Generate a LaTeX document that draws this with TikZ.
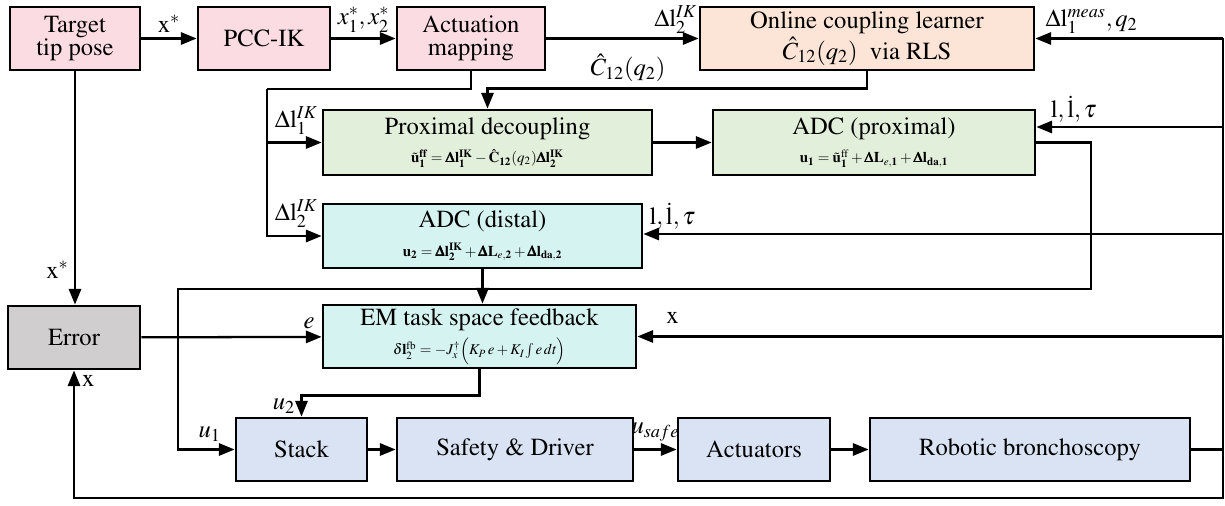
\documentclass[tikz,border=0pt]{standalone}
\usepackage[T1]{fontenc}
\usepackage{mathptmx}
\usepackage{amsmath}
\usetikzlibrary{positioning,arrows.meta}
\definecolor{pinkbox}{HTML}{FBDCE2}
\definecolor{peachbox}{HTML}{FCE4D6}
\definecolor{greenbox}{HTML}{E2EFDA}
\definecolor{cyanbox}{HTML}{D5F3F1}
\definecolor{graybox}{HTML}{D0CECE}
\definecolor{bluebox}{HTML}{DAE3F3}
\newcommand{\eqsz}{\fontsize{8.5}{10}\selectfont}
\newcommand{\bD}{\pmb{\Delta}}
\tikzset{
  blk/.style={draw, line width=1.6pt, minimum height=1.26cm, align=center,
    inner sep=1pt, font=\fontsize{14}{15}\selectfont},
  sig/.style={line width=1.3pt},
  arr/.style={sig, -{Triangle[length=9pt,width=7pt]}},
  lbl/.style={inner sep=1pt, font=\fontsize{14}{15}\selectfont}
}

\begin{document}
\begin{tikzpicture}[x=0.02cm, y=-0.02cm]
  \useasboundingbox (0,0) rectangle (1225,506);
  % top row
  \node[blk, fill=pinkbox, minimum width=2.6cm] (target) at (75,38.5) {Target\\[-2pt]tip pose};
  \node[blk, fill=pinkbox, minimum width=2.64cm] (pcc) at (264,38.5) {PCC-IK};
  \node[blk, fill=pinkbox, minimum width=2.96cm] (act) at (471,38.5) {Actuation\\[-2pt]mapping};
  \node[blk, fill=peachbox, minimum width=6.68cm] (online) at (867,38.5)
    {Online coupling learner\\[1pt]$\hat{C}_{12}(q_2)$\ \ via RLS};
  % decoupling and ADC
  \node[blk, fill=greenbox, minimum width=6.58cm, minimum height=1.3cm] (prox) at (487.5,142.5)
    {Proximal decoupling\\[1pt]{\eqsz$\tilde{\mathbf{u}}_{\mathbf{1}}^{\mathbf{ff}} = \bD\mathbf{l}_{\mathbf{1}}^{\mathbf{IK}} - \hat{\mathbf{C}}_{\mathbf{12}}(q_2)\bD\mathbf{l}_{\mathbf{2}}^{\mathbf{IK}}$}};
  \node[blk, fill=greenbox, minimum width=6.44cm, minimum height=1.3cm] (adcp) at (874,142.5)
    {ADC (proximal)\\[1pt]{\eqsz$\mathbf{u}_{\mathbf{1}} = \tilde{\mathbf{u}}_{\mathbf{1}}^{\mathrm{ff}} + \bD\mathbf{L}_{e,\mathbf{1}} + \bD\mathbf{l}_{\mathbf{da},\mathbf{1}}$}};
  \node[blk, fill=cyanbox, minimum width=6.38cm, minimum height=1.28cm] (adcd) at (482.5,236)
    {ADC (distal)\\[1pt]{\eqsz$\mathbf{u}_{\mathbf{2}} = \bD\mathbf{l}_{\mathbf{2}}^{\mathbf{IK}} + \bD\mathbf{L}_{e,\mathbf{2}} + \bD\mathbf{l}_{\mathbf{da},\mathbf{2}}$}};
  % feedback
  \node[blk, fill=graybox, minimum width=2.64cm] (error) at (74,337.5) {Error};
  \node[blk, fill=cyanbox, minimum width=6.26cm] (em) at (479.5,336.5)
    {EM task space feedback\\[2pt]{\eqsz$\delta\mathbf{l}_2^{\mathrm{fb}} = -J_x^{\dagger}\Bigl(K_P\,e + K_I\!\int e\,dt\Bigr)$}};
  % bottom row
  \node[blk, fill=bluebox, minimum width=2.62cm] (stack) at (301.5,449.5) {Stack};
  \node[blk, fill=bluebox, minimum width=4.72cm] (safety) at (515,449.5) {Safety \& Driver};
  \node[blk, fill=bluebox, minimum width=3.04cm] (actu) at (754,449.5) {Actuators};
  \node[blk, fill=bluebox, minimum width=6.4cm] (robot) at (1030,449.5) {Robotic bronchoscopy};

  % helper points
  \coordinate (split) at (267,89);
  \coordinate (busT) at (1223,38.5);
  \coordinate (busB) at (1223,498);
  \coordinate (tapP) at (1223,127);
  \coordinate (tapD) at (1223,234);
  \coordinate (tapE) at (1223,336.5);
  \coordinate (u1turn) at (1091,289);
  \coordinate (u1left) at (178,289);

  % forward path
  \draw[arr] (target) -- node[lbl, above=2pt] (lxs) {$\mathrm{x}^*$} (pcc);
  \draw[arr] (pcc) -- node[lbl, above=2pt] (lxs12) {$x_1^*, x_2^*$} (act);
  \draw[arr] (act) -- node[lbl, above=1pt, pos=0.85] (ldl2a) {$\Delta\mathrm{l}_2^{IK}$} (online);
  \draw[arr] (online.south) -- ++(0,17) -| (prox.north);
  \node[lbl, anchor=south] (lchat) at (628,84) {$\hat{C}_{12}(q_2)$};
  \draw[sig] (act.south) |- (split);
  \draw[arr] (split) |- (adcd.west);
  \draw[arr] (split |- prox.west) -- (prox.west);
  \node[lbl, anchor=south east] (ldl1) at (320,137) {$\Delta\mathrm{l}_1^{IK}$};
  \node[lbl, anchor=south east] (ldl2) at (320,230) {$\Delta\mathrm{l}_2^{IK}$};
  \draw[arr] (prox) -- (adcp);
  \draw[arr] (adcp.east) -| (u1turn) -- (u1left) |- node[lbl, above=3pt, pos=0.78] (lu1) {$u_1$} (stack.west);
  \draw[arr] (adcd.south) -- (adcd.south |- em.north);
  \draw[arr] (em.south) -- ++(0,26) -| node[lbl, left=2pt, pos=0.75] (lu2) {$u_2$} (stack.north);
  \draw[arr] (stack) -- (safety);
  \draw[arr] (safety) -- node[lbl, above=3pt] (lus) {$u_{safe}$} (actu);
  \draw[arr] (actu) -- (robot);

  % measurement bus
  \draw[sig] (robot.east) -- (robot.east -| busB);
  \draw[arr] (busT) -- (busB) -| node[lbl, right=3pt, pos=0.96] (lxe) {$\mathrm{x}$} (error.south);
  \draw[arr] (busT) -- node[lbl, above=1pt, pos=0.7] (lmeas) {$\Delta\mathrm{l}_1^{meas}, q_2$} (online.east);
  \draw[arr] (tapP) -- node[lbl, above=1pt, pos=0.8] (lllt1) {$\mathrm{l}, \dot{\mathrm{l}}, \tau$} (tapP -| adcp.east);
  \draw[arr] (tapD) -- node[lbl, above=1pt, pos=0.95] (lllt2) {$\mathrm{l}, \dot{\mathrm{l}}, \tau$} (tapD -| adcd.east);
  \draw[arr] (tapE) -- node[lbl, above=6pt, pos=0.94] (lxm) {$\mathrm{x}$} (em.east);
  \draw[arr] (error) -- node[lbl, above=3pt, pos=0.93] (le) {$e$} (em);
  \draw[arr] (target.south) -- node[lbl, left=2pt, pos=0.85] (lxt) {$\mathrm{x}^*$} (target.south |- error.north);
\end{tikzpicture}
\end{document}
